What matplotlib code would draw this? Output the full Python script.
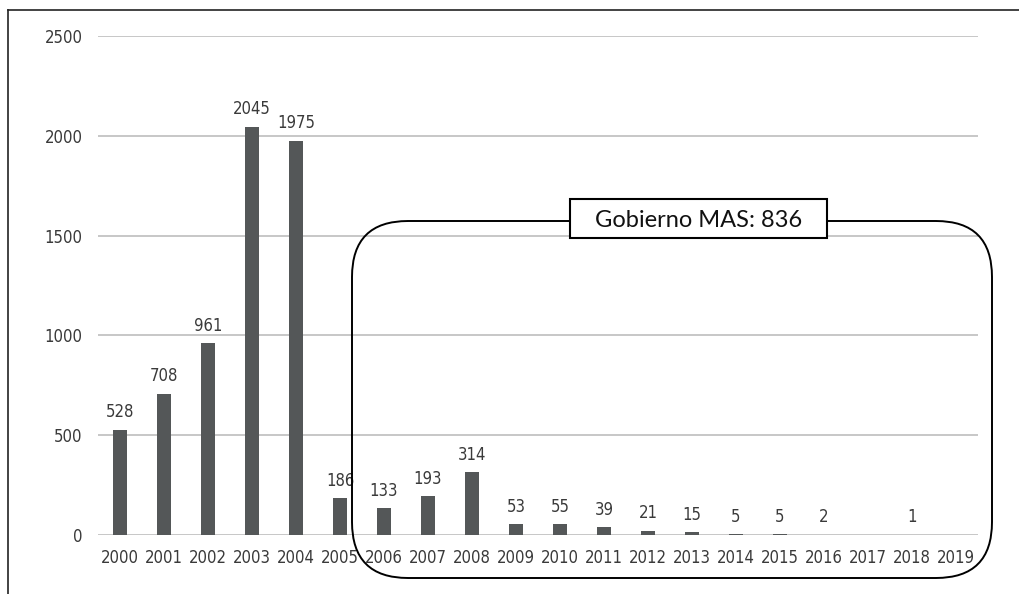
import matplotlib
matplotlib.use("Agg")
import matplotlib.pyplot as plt
from matplotlib.patches import FancyBboxPatch, Rectangle
from matplotlib.lines import Line2D

years = [str(y) for y in range(2000, 2020)]
values = [528, 708, 961, 2045, 1975, 186, 133, 193, 314, 53, 55, 39, 21, 15, 5, 5, 2, 0, 1, 0]
labels = ["528", "708", "961", "2045", "1975", "186", "133", "193", "314", "53", "55", "39",
          "21", "15", "5", "5", "2", "", "1", ""]
yticks = [0, 500, 1000, 1500, 2000, 2500]
box_text = "Gobierno MAS: 836"

W, H = 1020, 594
fig = plt.figure(figsize=(W / 100, H / 100), dpi=100)
cond = dict(family="DejaVu Sans", stretch="condensed")
tc = "#3a3a3a"
fs = 12

ax = fig.add_axes([98 / W, 1 - 535 / H, (978 - 98) / W, (535 - 36) / H])
x = list(range(len(years)))
ax.bar(x, values, width=0.34, color="#545758", zorder=3)
ax.set_xlim(-0.5, len(years) - 0.5)
ax.set_ylim(0, 2500)
ax.set_yticks(yticks)
ax.set_yticklabels([str(t) for t in yticks], fontsize=fs, color=tc, **cond)
ax.set_xticks(x)
ax.set_xticklabels(years, fontsize=fs, color=tc, **cond)
ax.tick_params(length=0)
ax.tick_params(axis="y", pad=11)
ax.tick_params(axis="x", pad=10)
for s in ax.spines.values():
    s.set_visible(False)
ax.yaxis.grid(True, color="#c3c3c3", linewidth=1.3, zorder=0)
ax.set_axisbelow(True)
for xi, v, lab in zip(x, values, labels):
    if lab:
        ax.annotate(lab, (xi, v), xytext=(0, 6), textcoords="offset points",
                    ha="center", va="bottom", fontsize=fs, color=tc, **cond)

# outer frame (top & left)
fig.add_artist(Line2D([8 / W, 8 / W], [0, 1 - 10 / H], transform=fig.transFigure, color="#222222", lw=1.2))
fig.add_artist(Line2D([8 / W, 1], [1 - 10 / H, 1 - 10 / H], transform=fig.transFigure, color="#222222", lw=1.2))

# rounded rectangle
x0, x1, y0, y1 = 352, 992, 221, 578
r = 56
rect = FancyBboxPatch(((x0 + r) / W, 1 - (y1 - r) / H), (x1 - x0 - 2 * r) / W, (y1 - y0 - 2 * r) / H,
                      boxstyle=f"round,pad={r / W},rounding_size={r / W}",
                      transform=fig.transFigure, fill=False, edgecolor="black", lw=1.4,
                      mutation_aspect=W / H)
fig.add_artist(rect)

# label box
bx0, bx1, by0, by1 = 570, 827, 199, 238
fig.add_artist(Rectangle((bx0 / W, 1 - by1 / H), (bx1 - bx0) / W, (by1 - by0) / H,
                         transform=fig.transFigure, facecolor="white", edgecolor="black", lw=1.5, zorder=5))
fig.text((bx0 + bx1) / 2 / W, 1 - (by0 + by1) / 2 / H, box_text, ha="center", va="center_baseline",
         fontsize=17, family=["Lato", "DejaVu Sans"], color="#111111", zorder=6)

fig.savefig("out.png", dpi=100)
